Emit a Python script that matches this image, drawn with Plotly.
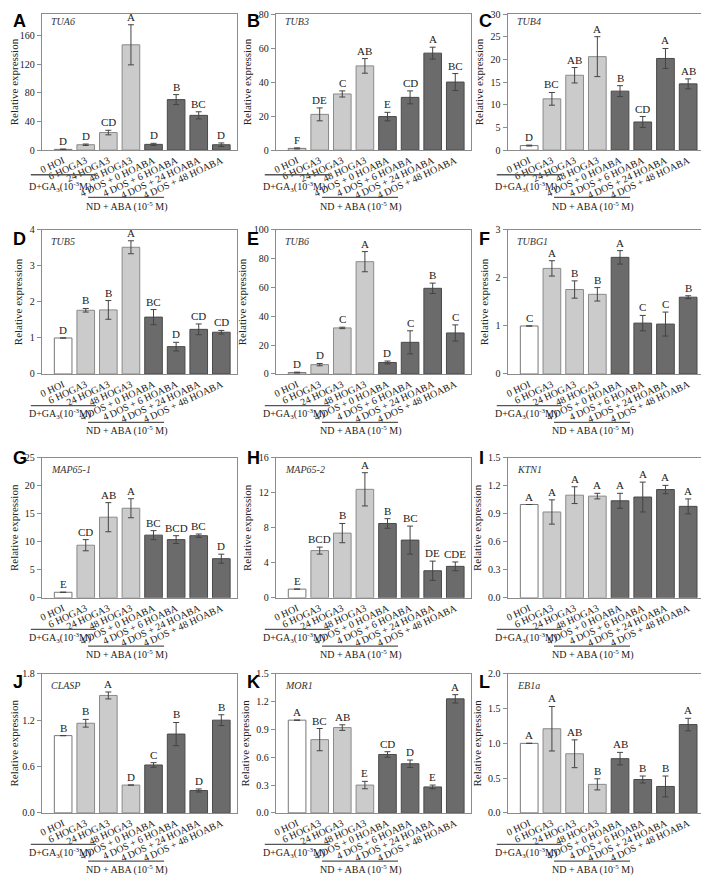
import plotly.graph_objects as go

categories = ["0 HOI", "6 HOGA3", "24 HOGA3", "48 HOGA3",
              "4 DOS + 0 HOABA", "4 DOS + 6 HOABA", "4 DOS + 24 HOABA", "4 DOS + 48 HOABA"]

genes = ["TUA6", "TUB3", "TUB4", "TUB5", "TUB6", "TUBG1",
         "MAP65-1", "MAP65-2", "KTN1", "CLASP", "MOR1", "EB1a"]
panel_letters = ["A", "B", "C", "D", "E", "F", "G", "H", "I", "J", "K", "L"]

tua6_mean = [1, 7.5, 24.5, 147, 8, 70.5, 48.5, 7.5]
tua6_err = [0.5, 1, 3.2, 28, 1.5, 7, 5, 2.5]
tua6_sig = ["D", "D", "CD", "A", "D", "B", "BC", "D"]

tub3_mean = [1, 21, 33, 49.5, 19.7, 31, 57, 40]
tub3_err = [0.3, 3.8, 1.8, 4.3, 2.5, 3.8, 3.5, 5]
tub3_sig = ["F", "DE", "C", "AB", "E", "CD", "A", "BC"]

tub4_mean = [1, 11.3, 16.5, 20.6, 13, 6.2, 20.2, 14.6]
tub4_err = [0.1, 1.4, 1.7, 4.4, 1.2, 1.2, 2.2, 1.1]
tub4_sig = ["D", "BC", "AB", "A", "B", "CD", "A", "AB"]

tub5_mean = [1, 1.77, 1.78, 3.52, 1.58, 0.76, 1.24, 1.16]
tub5_err = [0, 0.05, 0.26, 0.18, 0.21, 0.12, 0.15, 0.05]
tub5_sig = ["D", "B", "B", "A", "BC", "D", "CD", "CD"]

tub6_mean = [1, 6.5, 32, 78, 8, 22, 59.5, 28.5]
tub6_err = [0.3, 0.8, 0.5, 7, 1, 8, 3.6, 5.6]
tub6_sig = ["D", "D", "C", "A", "D", "C", "B", "C"]

tubg1_mean = [1, 2.2, 1.76, 1.66, 2.43, 1.06, 1.04, 1.6]
tubg1_err = [0, 0.16, 0.18, 0.14, 0.14, 0.16, 0.25, 0.03]
tubg1_sig = ["C", "A", "B", "B", "A", "C", "C", "B"]

map651_mean = [1, 9.4, 14.4, 16, 11.2, 10.4, 11.1, 7]
map651_err = [0, 1, 2.6, 1.7, 0.8, 0.7, 0.3, 0.8]
map651_sig = ["E", "CD", "AB", "A", "BC", "BCD", "BC", "D"]

map652_mean = [1, 5.4, 7.4, 12.4, 8.5, 6.6, 3.1, 3.6]
map652_err = [0, 0.4, 1.1, 1.9, 0.55, 1.6, 1.1, 0.5]
map652_sig = ["E", "BCD", "B", "A", "B", "BC", "DE", "CDE"]

ktn1_mean = [1.0, 0.92, 1.10, 1.09, 1.04, 1.08, 1.16, 0.98]
ktn1_err = [0, 0.13, 0.09, 0.03, 0.08, 0.16, 0.045, 0.08]
ktn1_sig = ["A", "A", "A", "A", "A", "A", "A", "A"]

clasp_mean = [1.0, 1.16, 1.52, 0.36, 0.62, 1.02, 0.29, 1.2]
clasp_err = [0, 0.05, 0.045, 0, 0.03, 0.15, 0.02, 0.07]
clasp_sig = ["B", "B", "A", "D", "C", "B", "D", "B"]

mor1_mean = [1.0, 0.79, 0.92, 0.30, 0.63, 0.53, 0.28, 1.23]
mor1_err = [0, 0.12, 0.03, 0.04, 0.03, 0.04, 0.02, 0.045]
mor1_sig = ["A", "BC", "AB", "E", "CD", "D", "E", "A"]

eb1a_mean = [1.0, 1.21, 0.85, 0.41, 0.78, 0.48, 0.38, 1.27]
eb1a_err = [0, 0.32, 0.2, 0.08, 0.09, 0.05, 0.15, 0.09]
eb1a_sig = ["A", "A", "AB", "B", "AB", "B", "B", "A"]

means = [tua6_mean, tub3_mean, tub4_mean, tub5_mean, tub6_mean, tubg1_mean,
         map651_mean, map652_mean, ktn1_mean, clasp_mean, mor1_mean, eb1a_mean]
errs = [tua6_err, tub3_err, tub4_err, tub5_err, tub6_err, tubg1_err,
        map651_err, map652_err, ktn1_err, clasp_err, mor1_err, eb1a_err]
sigs = [tua6_sig, tub3_sig, tub4_sig, tub5_sig, tub6_sig, tubg1_sig,
        map651_sig, map652_sig, ktn1_sig, clasp_sig, mor1_sig, eb1a_sig]

y_max = [190, 80, 30, 4, 100, 3, 25, 16, 1.5, 1.8, 1.5, 2.0]
y_ticks = [
    [0, 40, 80, 120, 160],
    [0, 20, 40, 60, 80],
    [0, 5, 10, 15, 20, 25, 30],
    [0, 1, 2, 3, 4],
    [0, 20, 40, 60, 80, 100],
    [0, 1, 2, 3],
    [0, 5, 10, 15, 20, 25],
    [0, 4, 8, 12, 16],
    [0.0, 0.3, 0.6, 0.9, 1.2, 1.5],
    [0.0, 0.6, 1.2, 1.8],
    [0.0, 0.3, 0.6, 0.9, 1.2, 1.5],
    [0.0, 0.5, 1.0, 1.5, 2.0],
]
y_tickfmt = ["d", "d", "d", "d", "d", "d", "d", "d", ".1f", ".1f", ".1f", ".1f"]

bar_fill = ["#ffffff", "#cbcbcb", "#cbcbcb", "#cbcbcb", "#6b6b6b", "#6b6b6b", "#6b6b6b", "#6b6b6b"]
bar_line = ["#777777", "#8a8a8a", "#8a8a8a", "#8a8a8a", "#4a4a4a", "#4a4a4a", "#4a4a4a", "#4a4a4a"]

# page body has an 8px default margin: figure drawn offset by (8, 8)
OFF = 8
W, H = 709 - OFF, 882 - OFF
col_px = [(33, 231), (270, 468), (505, 704)]
row_px = [(4, 146), (227, 373), (458, 600), (677, 818)]
letter_y = [15, 236, 458, 685]
group_off = [[25, 37, 48, 57], [32, 41, 49, 57], [32, 41, 49, 57], [32, 41, 49, 57]]

SERIF = "Liberation Serif"
SANS = "Liberation Sans"


def px(x):
    return (x - OFF) / W


def py(y):
    return 1 - (y - OFF) / H


fig = go.Figure()
annotations = []
shapes = []

for i in range(12):
    r, c = divmod(i, 3)
    L, R = col_px[c]
    T, B = row_px[r]
    n = "" if i == 0 else str(i + 1)
    xa, ya = "x" + n, "y" + n
    fig.add_trace(go.Bar(
        x=categories, y=means[i], xaxis=xa, yaxis=ya,
        width=0.78,
        marker=dict(color=bar_fill, line=dict(color=bar_line, width=1)),
        error_y=dict(type="data", array=errs[i], color="#444444", thickness=1, width=3),
        showlegend=False, hoverinfo="skip",
    ))
    fig.update_layout(**{
        "xaxis" + n: dict(domain=[max(px(L), 0), px(R)], anchor=ya, range=[-0.95, 7.7],
                          showline=True, mirror=True, linecolor="#8c8c8c", linewidth=1,
                          ticks="", tickangle=-25, showgrid=False, zeroline=False,
                          tickfont=dict(family=SERIF, size=10, color="#222")),
        "yaxis" + n: dict(domain=[max(py(B), 0), min(py(T), 1)], anchor=xa, range=[0, y_max[i]],
                          showline=True, mirror=True, linecolor="#8c8c8c", linewidth=1,
                          ticks="outside", ticklen=4, tickcolor="#8c8c8c",
                          tickvals=y_ticks[i], tickformat=y_tickfmt[i],
                          showgrid=False, zeroline=False,
                          tickfont=dict(family=SERIF, size=10, color="#222"),
                          title=dict(text="Relative expression", standoff=4,
                                     font=dict(family=SERIF, size=11, color="#222"))),
    })
    # significance letters
    for k in range(8):
        annotations.append(dict(
            x=categories[k], y=means[i][k] + errs[i][k], xref=xa, yref=ya,
            text=sigs[i][k], showarrow=False, yanchor="bottom", yshift=0,
            font=dict(family=SERIF, size=11, color="#222")))
    # gene name
    annotations.append(dict(
        x=px(L + 7), y=py(T + 4), xref="paper", yref="paper", xanchor="left", yanchor="top",
        text="<i>" + genes[i] + "</i>", showarrow=False,
        font=dict(family=SERIF, size=10, color="#333")))
    # panel letter
    annotations.append(dict(
        x=px(L - 31), y=py(letter_y[r]), xref="paper", yref="paper", xanchor="left", yanchor="middle",
        text="<b>" + panel_letters[i] + "</b>", showarrow=False,
        font=dict(family=SANS, size=18, color="#000")))
    # group brackets
    o = group_off[r]
    shapes.append(dict(type="line", xref="paper", yref="paper",
                       x0=px(L - 11), x1=px(L + 55), y0=py(B + o[0]), y1=py(B + o[0]),
                       line=dict(color="#555", width=1.3)))
    annotations.append(dict(
        x=px(L + 19), y=py(B + o[1]), xref="paper", yref="paper", xanchor="center", yanchor="middle",
        text="D+GA<sub>3</sub>(10<sup>-3</sup>M)", showarrow=False,
        font=dict(family=SERIF, size=10, color="#222")))
    shapes.append(dict(type="line", xref="paper", yref="paper",
                       x0=px(L + 47), x1=px(L + 124), y0=py(B + o[2]), y1=py(B + o[2]),
                       line=dict(color="#555", width=1.3)))
    annotations.append(dict(
        x=px(L + 86), y=py(B + o[3]), xref="paper", yref="paper", xanchor="center", yanchor="middle",
        text="ND + ABA (10<sup>-5</sup> M)", showarrow=False,
        font=dict(family=SERIF, size=10, color="#222")))

fig.update_layout(
    width=W, height=H, margin=dict(l=0, r=0, t=0, b=0),
    paper_bgcolor="white", plot_bgcolor="white",
    annotations=annotations, shapes=shapes, bargap=0.2,
)

fig.write_html("out.html")
